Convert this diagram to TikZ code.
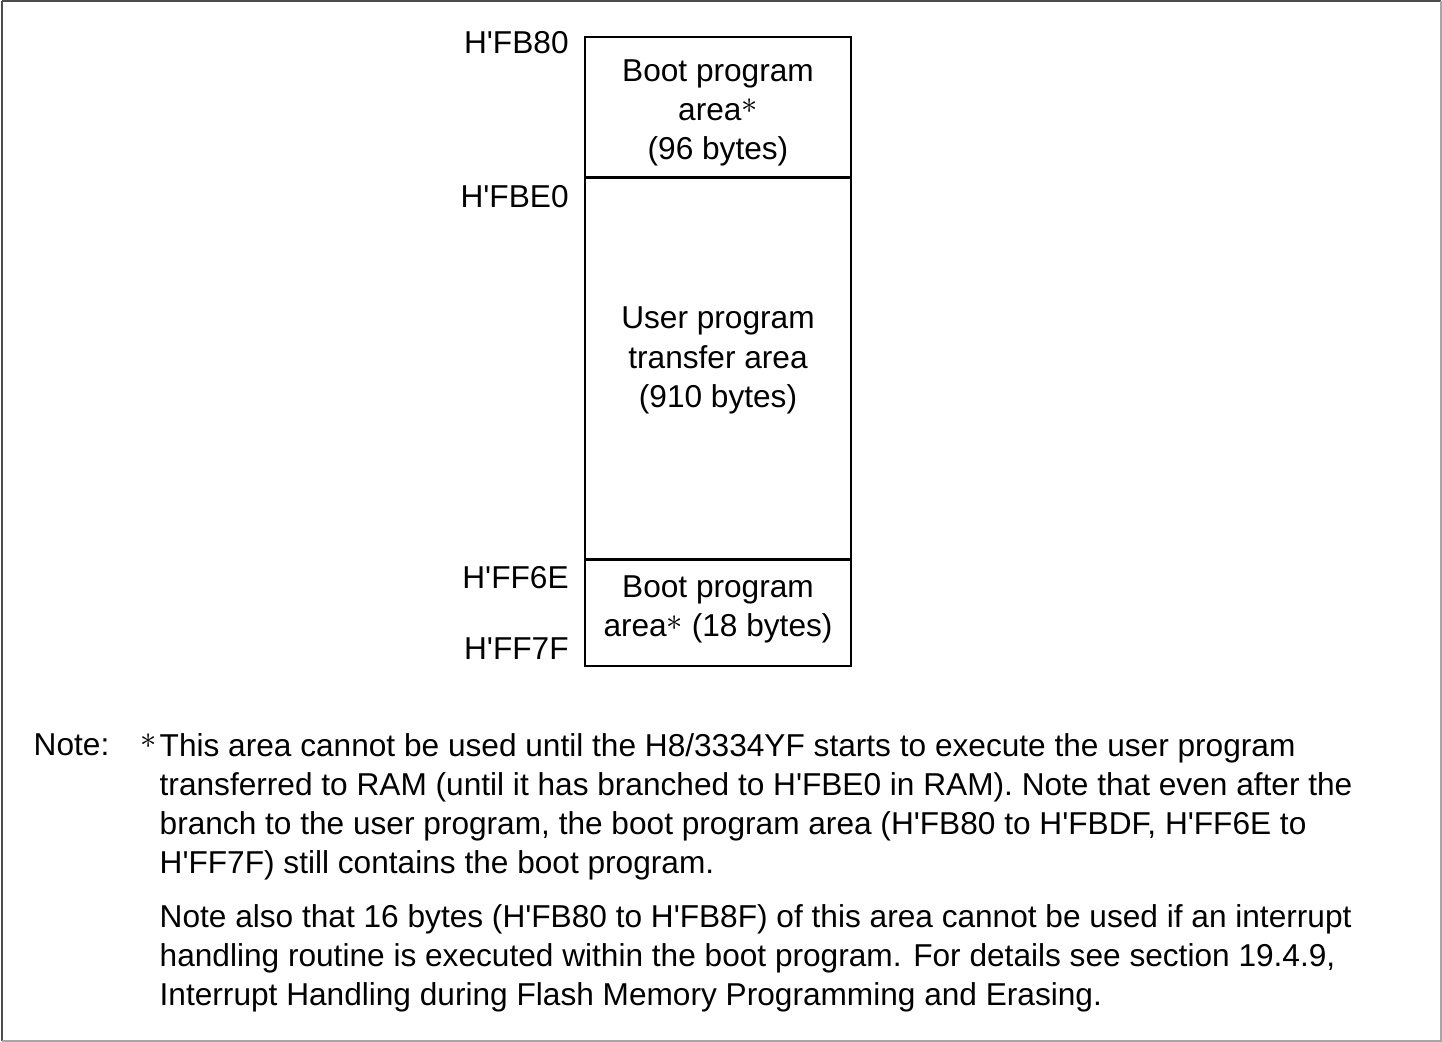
\documentclass[tikz,border=0pt]{standalone}
\usepackage{fontspec}
\setmainfont{Liberation Sans}
\usepackage{tikz}
\usetikzlibrary{positioning}

\newcommand{\astmark}{\smash{\raisebox{0.4ex}{$\ast$}}}
\newcommand{\hx}{H\textquotesingle}

\begin{document}
\fontsize{9pt}{11.1pt}\selectfont
\begin{tikzpicture}[
    font=\fontsize{9pt}{11.1pt}\selectfont,
    region/.style={rectangle, draw, line width=0.4pt, minimum width=2.66cm, inner sep=0pt},
    areatext/.style={align=center, inner sep=0pt},
    addr/.style={inner sep=0pt, anchor=east},
    notetext/.style={inner sep=0pt, align=left, anchor=north west}
]
\useasboundingbox (0,0) rectangle (14.42,-10.42);
\draw[line width=0.5pt, black!70] (0.02,-0.01) -- (0.02,-10.41);
\draw[line width=0.5pt, black!70] (0.02,-0.01) -- (14.41,-0.01);
\draw[line width=0.5pt, black!35] (14.41,-0.01) -- (14.41,-10.41) -- (0.02,-10.41);

% memory map
\node[region, minimum height=1.40cm] (boot1) at (7.18,-1.07) {};
\node[region, minimum height=3.80cm, below=0pt of boot1] (user) {};
\node[region, minimum height=1.06cm, below=0pt of user] (boot2) {};
\node[areatext, yshift=-0.06cm] (boot1text) at (boot1) {Boot program\\area\astmark\\(96 bytes)};
\node[areatext, yshift=0.08cm] (usertext) at (user) {User program\\transfer area\\(910 bytes)};
\node[areatext, yshift=0.03cm] (boot2text) at (boot2) {Boot program\\area\astmark{} (18 bytes)};

% addresses
\node[addr, left=0.15cm of boot1.north west, yshift=-0.06cm] (fb80) {\hx FB80};
\node[addr, left=0.15cm of boot1.south west, yshift=-0.19cm] (fbe0) {\hx FBE0};
\node[addr, left=0.15cm of boot2.north west, yshift=-0.18cm] (ff6e) {\hx FF6E};
\node[addr, left=0.15cm of boot2.south west, yshift=0.18cm] (ff7f) {\hx FF7F};

% note
\node[notetext] (note1) at (1.59,-7.33) {This area cannot be used until the H8/3334YF starts to execute the user program\\
transferred to RAM (until it has branched to \hx FBE0 in RAM). Note that even after the\\
branch to the user program, the boot program area (\hx FB80 to \hx FBDF, \hx FF6E to\\
\hx FF7F) still contains the boot program.};
\node[notetext, below=0.23cm of note1.south west, anchor=north west] (note2) {Note also that 16 bytes (\hx FB80 to \hx FB8F) of this area cannot be used if an interrupt\\
handling routine is executed within the boot program. For details see section 19.4.9,\\
Interrupt Handling during Flash Memory Programming and Erasing.};
\node[notetext] (notelabel) at (0.33,-7.33) {Note:};
\node[notetext] (notestar) at (1.40,-7.33) {$\ast$};
\end{tikzpicture}
\end{document}
